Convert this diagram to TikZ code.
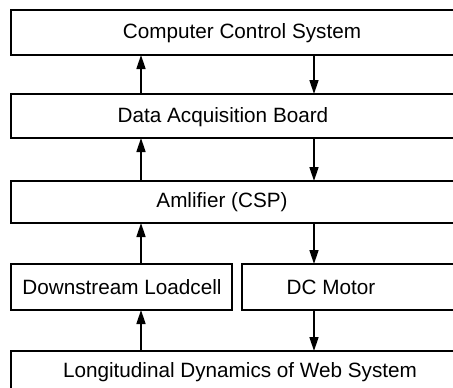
\documentclass[tikz,border=0pt]{standalone}
\usepackage{fontspec}
\setmainfont{Liberation Sans}
\usetikzlibrary{arrows.meta}
\begin{document}
\begin{tikzpicture}[x=1pt,y=-1pt,
  boxline/.style={line width=1.8pt},
  lbl/.style={font=\fontsize{20.7}{24}\selectfont, inner sep=0pt},
  conn/.style={line width=1.6pt, -{Triangle[length=14pt,width=9pt]}}]
\useasboundingbox (0,0) rectangle (453,388);
\begin{scope}
\clip (0,0) rectangle (453,388);
\draw[boxline] (11,10) rectangle (480,55);
\draw[boxline] (11,94) rectangle (480,138);
\draw[boxline] (11,181) rectangle (480,223);
\draw[boxline] (11,264) rectangle (232,310);
\draw[boxline] (242,264) rectangle (480,310);
\draw[boxline] (11,351) rectangle (480,420);
\end{scope}
\node[lbl] (ccs) at (242,33) {Computer Control System};
\node[lbl] (dab) at (223,117) {Data Acquisition Board};
\node[lbl] (amp) at (222,202) {Amlifier (CSP)};
\node[lbl] (dl) at (122,287) {Downstream Loadcell};
\node[lbl] (dc) at (331,287) {DC Motor};
\node[lbl] (web) at (240,372) {Longitudinal Dynamics of Web System};
\coordinate (c1b) at (141,55); \coordinate (c1r) at (314,55);
\coordinate (c2t) at (141,94); \coordinate (c2rt) at (314,94);
\coordinate (c2b) at (141,138); \coordinate (c2rb) at (314,138);
\coordinate (c3t) at (141,181); \coordinate (c3rt) at (314,181);
\coordinate (c3b) at (141,223); \coordinate (c3rb) at (314,223);
\coordinate (c4t) at (141,264); \coordinate (c4rt) at (314,264);
\coordinate (c4b) at (141,310); \coordinate (c4rb) at (314,310);
\coordinate (c5t) at (141,351); \coordinate (c5rt) at (314,351);
\draw[conn] (c2t) -- (c1b);
\draw[conn] (c1r) -- (c2rt);
\draw[conn] (c3t) -- (c2b);
\draw[conn] (c2rb) -- (c3rt);
\draw[conn] (c4t) -- (c3b);
\draw[conn] (c3rb) -- (c4rt);
\draw[conn] (c5t) -- (c4b);
\draw[conn] (c4rb) -- (c5rt);
\end{tikzpicture}
\end{document}
